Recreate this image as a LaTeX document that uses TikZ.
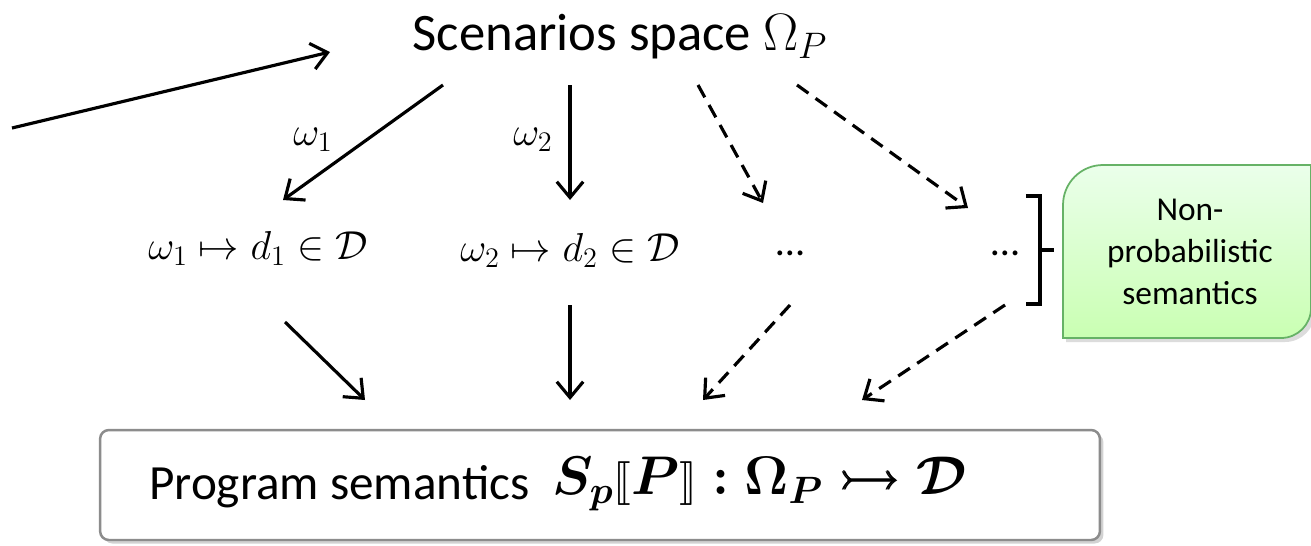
\RequirePackage{fix-cm}
\documentclass[tikz,border=0pt]{standalone}
\usepackage{amsmath,amssymb,bm}
\usepackage{stmaryrd}
\usepackage{fontspec}
\setmainfont{Carlito}
\usetikzlibrary{arrows.meta,shadows}
\begin{document}
\begin{tikzpicture}[x=0.02cm,y=-0.02cm,
  arr/.style={line width=1.8pt,-{Straight Barb[length=9pt,width=15pt,line width=1.8pt]}},
  darr/.style={arr,dash pattern=on 8pt off 5pt},
  rowtxt/.style={font=\fontsize{23}{26}\selectfont},
  lbl/.style={font=\fontsize{23}{26}\selectfont},
]
\path[use as bounding box,fill=white] (0,0) rectangle (1311,545);
% title
\node (S) at (620,37) {\fontsize{30}{34}\selectfont Scenarios space $\Omega_P$};
% incoming arrow
\coordinate (inA) at (12,128);
\coordinate (inB) at (330,52);
\draw[arr] (inA) -- (inB);
% row nodes
\node[rowtxt] (r1) at (258,248) {$\omega_1\mapsto d_1\in\mathcal{D}$};
\node[rowtxt] (r2) at (570,250) {$\omega_2\mapsto d_2\in\mathcal{D}$};
\node[rowtxt] (r3) at (790,253) {\dots};
\node[rowtxt] (r4) at (1005,253) {\dots};
% labels
\node[lbl] (l1) at (313,140) {$\omega_1$};
\node[lbl] (l2) at (533,140) {$\omega_2$};
% top arrows
\coordinate (a1s) at (443,85); \coordinate (a1e) at (283,200);
\coordinate (a2s) at (570,85); \coordinate (a2e) at (570,200);
\coordinate (a3s) at (698,85); \coordinate (a3e) at (763,203);
\coordinate (a4s) at (797,85); \coordinate (a4e) at (968,208);
\draw[arr] (a1s) -- (a1e);
\draw[arr] (a2s) -- (a2e);
\draw[darr] (a3s) -- (a3e);
\draw[darr] (a4s) -- (a4e);
% bottom arrows
\coordinate (b1s) at (285,322); \coordinate (b1e) at (365,400);
\coordinate (b2s) at (570,305); \coordinate (b2e) at (570,400);
\coordinate (b3s) at (790,305); \coordinate (b3e) at (703,400);
\coordinate (b4s) at (1005,305); \coordinate (b4e) at (862,400);
\draw[arr] (b1s) -- (b1e);
\draw[arr] (b2s) -- (b2e);
\draw[darr] (b3s) -- (b3e);
\draw[darr] (b4s) -- (b4e);
% bracket
\coordinate (brT) at (1040,196);
\coordinate (brB) at (1040,304);
\coordinate (brM) at (1040,250);
\draw[line width=1.8pt] ([xshift=-8]brT) -- (brT) -- (brB) -- ([xshift=-8]brB);
\draw[line width=1.8pt] (brM) -- ([xshift=8]brM);
% green box
\fill[black!30,opacity=0.45]
  (1066,209) arc[start angle=180,end angle=270,radius=40] -- (1315,169) -- (1315,312) arc[start angle=0,end angle=90,radius=30] -- (1066,342) -- cycle;
\shade[top color=green!8!white,bottom color=green!60!lime!30!white,draw=green!50!black!60,line width=1pt]
  (1063,205) arc[start angle=180,end angle=270,radius=40] -- (1311,165) -- (1311,308) arc[start angle=0,end angle=90,radius=30] -- (1063,338) -- cycle;
\node[align=center,font=\fontsize{19}{24}\selectfont] (N) at (1190,252) {Non-\\probabilistic\\semantics};
% bottom box
\node[draw=black!45,line width=1.4pt,rounded corners=5pt,fill=white,
  drop shadow={shadow xshift=2pt,shadow yshift=-2pt,opacity=0.35},
  minimum width=20cm,minimum height=2.2cm] (B) at (600,485) {};
\node[anchor=west,font=\fontsize{28}{32}\selectfont] (Bt) at (143,487) {Program semantics};
\node[anchor=west,font=\fontsize{31}{35}\selectfont] (Bf) at (546,484) {$\bm{S_p\llbracket P\rrbracket : \Omega_P \rightarrowtail \mathcal{D}}$};
\end{tikzpicture}
\end{document}
